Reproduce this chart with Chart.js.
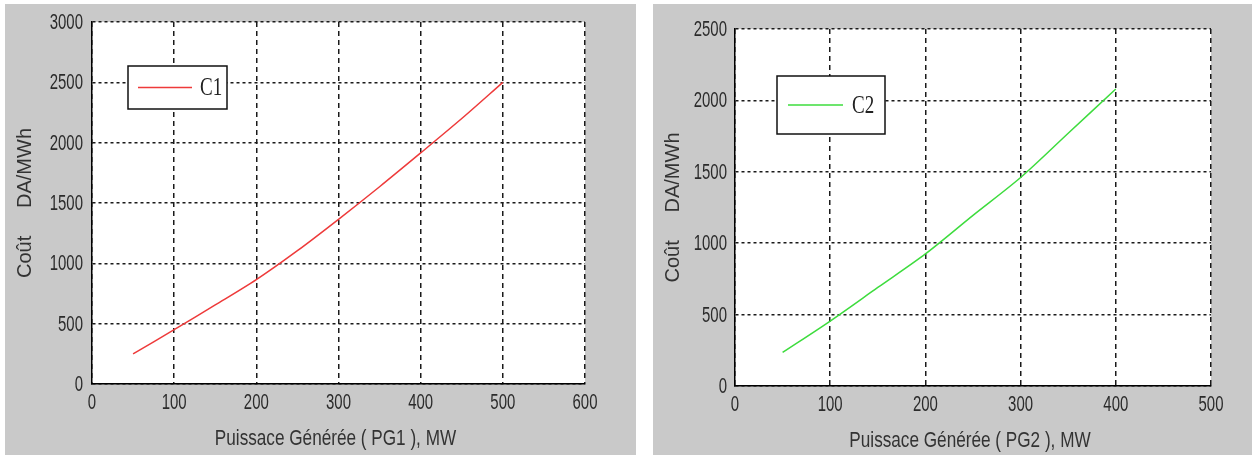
<!DOCTYPE html>
<html>
<head>
<meta charset="utf-8">
<script src="https://cdn.jsdelivr.net/npm/chart.js@4.4.1/dist/chart.umd.min.js"></script>
<style>
  html, body { margin: 0; padding: 0; background: #fff; }
  body { width: 1259px; height: 457px; position: relative; overflow: hidden; }
  .panel { position: absolute; background: #c9c9c9; }
  #p1 { left: 5px; top: 4px; width: 631px; height: 451px; }
  #p2 { left: 653px; top: 4px; width: 599px; height: 451px; }
</style>
</head>
<body>
<div class="panel" id="p1"><canvas id="chart1"></canvas></div>
<div class="panel" id="p2"><canvas id="chart2"></canvas></div>
<script>
// values
const pg1 = [50, 100, 150, 200, 250, 300, 350, 400, 450, 500];
const cost1 = [250, 450, 655, 865, 1105, 1365, 1635, 1915, 2200, 2500];
const pg2 = [50, 100, 150, 200, 250, 300, 350, 400];
const cost2 = [235, 455, 690, 925, 1195, 1460, 1770, 2080];

const xTitle1 = 'Puissace Générée ( PG1 ), MW';
const xTitle2 = 'Puissace Générée ( PG2 ), MW';
const yTitle = 'Coût     DA/MWh';

const SANS = "'Liberation Sans', Arial, sans-serif";
const TEXT = '#2b2b2b';
const GRID = '#1a1a1a';

Chart.defaults.color = TEXT;
Chart.defaults.font.family = SANS;

// the source text is tall and narrow, so squeeze it horizontally
function squeezed(ctx, txt, x, y, sx) {
    ctx.save();
    ctx.translate(x, y);
    ctx.scale(sx, 1);
    ctx.fillText(txt, 0, 0);
    ctx.restore();
}

const plotArea = {
    id: 'plotArea',
    beforeDraw(chart) {
        const { ctx, chartArea: a } = chart;
        ctx.save();
        ctx.fillStyle = '#fff';
        ctx.fillRect(a.left, a.top, a.right - a.left, a.bottom - a.top);
        ctx.restore();
    },
    afterDraw(chart, args, opts) {
        const { ctx, chartArea: a } = chart;
        const xs = chart.scales.x, ys = chart.scales.y;

        // tick labels + x title, positioned from the scales
        ctx.save();
        ctx.fillStyle = TEXT;
        ctx.font = '22px ' + SANS;
        ctx.textAlign = 'center';
        ctx.textBaseline = 'alphabetic';
        xs.ticks.forEach(t => squeezed(ctx, String(t.value), xs.getPixelForValue(t.value), xs.top + 25, 0.68));
        ctx.textAlign = 'right';
        ctx.textBaseline = 'middle';
        ys.ticks.forEach(t => squeezed(ctx, String(t.value), ys.right - opts.yPad, ys.getPixelForValue(t.value) + 1, 0.68));
        ctx.fillStyle = '#333';
        ctx.textAlign = 'center';
        ctx.textBaseline = 'alphabetic';
        squeezed(ctx, opts.xTitle, (xs.left + xs.right) / 2 - 3, xs.top + 61, 0.78);
        ctx.restore();

        // boxed legend inside the axes
        const ds = chart.data.datasets[0];
        const bx = a.left + opts.x, by = a.top + opts.y;
        ctx.save();
        ctx.fillStyle = '#fff';
        ctx.fillRect(bx, by, opts.w, opts.h);
        ctx.strokeStyle = '#111';
        ctx.lineWidth = 1.5;
        ctx.strokeRect(bx, by, opts.w, opts.h);
        const my = by + opts.h / 2;
        ctx.strokeStyle = ds.borderColor;
        ctx.lineWidth = 1.5;
        ctx.beginPath();
        ctx.moveTo(bx + opts.line[0], my);
        ctx.lineTo(bx + opts.line[1], my);
        ctx.stroke();
        ctx.translate(bx + opts.tx, my);
        ctx.scale(0.95, 1.25);
        ctx.font = "20px 'Liberation Serif', 'Times New Roman', serif";
        ctx.fillStyle = '#222';
        ctx.textBaseline = 'middle';
        ctx.fillText(ds.label, 0, 1);
        ctx.restore();
    }
};

function makeChart(id, cfg) {
    return new Chart(document.getElementById(id), {
        type: 'line',
        data: {
            datasets: [{
                label: cfg.label,
                data: cfg.xs.map((x, i) => ({ x, y: cfg.ys[i] })),
                borderColor: cfg.color,
                borderWidth: 1.5,
                pointRadius: 0,
                tension: 0.3,
                fill: false
            }]
        },
        options: {
            responsive: true,
            maintainAspectRatio: false,
            animation: false,
            layout: { padding: cfg.pad },
            plugins: {
                legend: { display: false },
                tooltip: { enabled: false },
                plotArea: cfg.legend
            },
            scales: {
                x: {
                    type: 'linear',
                    min: 0, max: cfg.xMax,
                    ticks: { stepSize: 100, display: false },
                    grid: { color: GRID, lineWidth: 1.5, drawTicks: false },
                    border: { display: true, color: '#000', width: 1.5, dash: [5, 4] },
                    afterFit: (s) => { s.height = cfg.xH; }
                },
                y: {
                    min: 0, max: cfg.yMax,
                    ticks: { stepSize: 500, display: false },
                    grid: { color: GRID, lineWidth: 1.5, drawTicks: false },
                    border: { display: true, color: '#000', width: 1.5, dash: [3, 3] },
                    title: {
                        display: true, text: yTitle, color: '#333',
                        font: { size: 20 },
                        padding: { top: 8, bottom: 0 }
                    },
                    afterFit: (s) => { s.width = cfg.yW; }
                }
            }
        },
        plugins: [plotArea]
    });
}

makeChart('chart1', {
    label: 'C1', xs: pg1, ys: cost1, color: '#ee3a3a',
    xMax: 600, yMax: 3000,
    pad: { left: 0, right: 51, top: 18, bottom: 0 }, xH: 71, yW: 87,
    legend: { x: 36, y: 44, w: 99, h: 43, line: [10, 64], tx: 72, yPad: 9, xTitle: xTitle1 }
});

makeChart('chart2', {
    label: 'C2', xs: pg2, ys: cost2, color: '#3ddc3d',
    xMax: 500, yMax: 2500,
    pad: { left: 0, right: 41, top: 25, bottom: 0 }, xH: 69, yW: 82,
    legend: { x: 42, y: 47, w: 108, h: 58, line: [11, 66], tx: 75, yPad: 8, xTitle: xTitle2 }
});
</script>
</body>
</html>
